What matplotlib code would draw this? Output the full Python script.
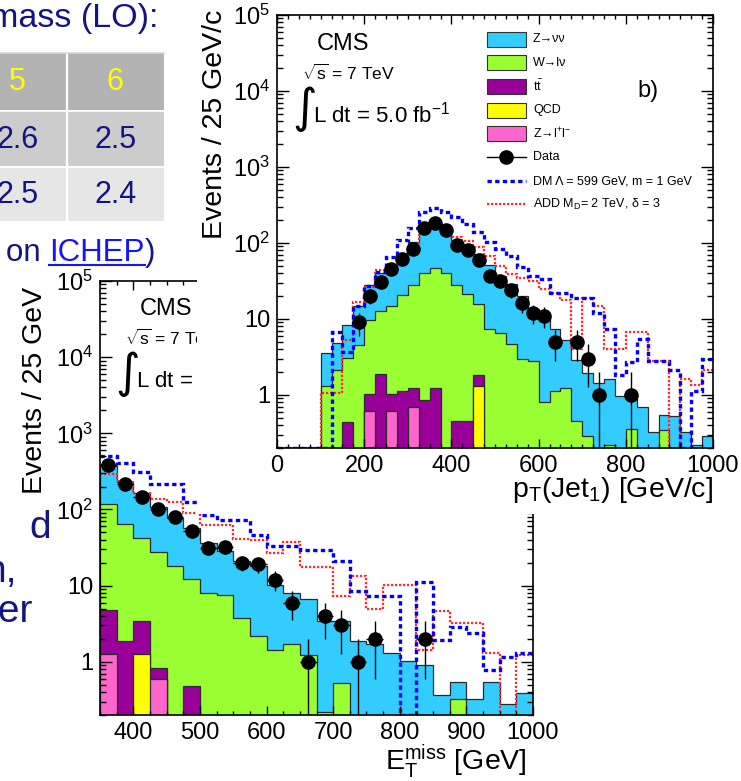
import numpy as np
import matplotlib
matplotlib.use("Agg")
import matplotlib.pyplot as plt
from matplotlib.patches import Rectangle
from matplotlib.lines import Line2D
from matplotlib.transforms import Bbox
from matplotlib.ticker import LogLocator, MultipleLocator, FuncFormatter, NullFormatter

plt.rcParams['font.family'] = ['Liberation Sans', 'DejaVu Sans']
plt.rcParams['mathtext.fontset'] = 'custom'
plt.rcParams['mathtext.rm'] = 'Liberation Sans'
plt.rcParams['mathtext.it'] = 'Liberation Sans:italic'
plt.rcParams['mathtext.bf'] = 'Liberation Sans:bold'
plt.rcParams['mathtext.default'] = 'regular'

# ---------------- leading jet pT (25 GeV/c bins, 0-1000) ----------------
pt_edges = np.arange(0, 1001, 25)
pt_znn = [0, 0, 0, 0, 2.3, 2.6, 5.3, 10, 18, 27, 37, 52, 74, 102, 115, 100, 81, 65, 56, 44,
          30, 24, 17, 10.7, 9.4, 6.3, 4.1, 2.4, 1.66, 1.44, 1.4, 0.96, 0.6, 0.70, 0.32, 0.21,
          0.52, 0.32, 0.22, 0.29]
pt_wln = [0, 0, 0, 0, 1.3, 2.15, 2.6, 4.6, 8.7, 11, 13.7, 19.8, 27, 39, 45, 40, 27.5, 20.8,
          13.9, 7.4, 6.5, 4.7, 3.0, 2.8, 0.8, 1.14, 1.24, 0.45, 0.29, 0, 0.22, 0, 0.36, 0, 0,
          0.34, 0, 0, 0, 0]
pt_tt = [0, 0, 0, 0, 0, 0, 0.44, 0, 0.42, 1.89, 0.42, 1.14, 0.54, 0.86, 1.24, 0, 0.45, 0.45,
         0.51, 0, 0, 0, 0, 0, 0, 0, 0, 0, 0, 0, 0, 0, 0, 0, 0, 0, 0, 0, 0, 0]
pt_qcd = [0] * 18 + [1.29] + [0] * 21
pt_zll = [0, 0, 0, 0, 0, 0, 0, 0, 0.61, 0, 0.61, 0, 0.70, 0, 0, 0, 0, 0, 0, 0,
          0, 0, 0, 0, 0, 0, 0, 0, 0, 0, 0, 0, 0, 0, 0, 0, 0, 0, 0, 0]
pt_data = [0, 0, 0, 0, 0, 0, 0, 9, 20, 31, 45, 62, 83, 155, 182, 150, 94, 81, 59, 37,
           32, 24, 16, 12, 11, 5, 0, 5, 3, 1, 0, 0, 1, 0, 0, 0, 0, 0, 0, 0]
pt_dm = [0, 0, 0, 0, 0, 6.7, 3.7, 15, 27, 41, 65, 110, 156, 253, 286, 253, 218, 178, 138, 102,
         83, 68, 48, 37, 34, 22, 22, 19, 19, 12, 7.4, 1.8, 2.7, 5.5, 2.8, 2.8, 2.1, 0, 1.14, 3.0]
pt_add = [0, 0, 0, 0, 1.06, 1.06, 5.35, 16.5, 26, 44, 40, 58, 92, 153, 160, 161, 119, 107, 88,
          67, 49, 39, 35, 32, 25, 22, 17.5, 4.0, 19, 15, 4.0, 4.0, 6.7, 6.7, 2.8, 2.8, 0, 1.6,
          1.33, 2.1]

# ---------------- missing ET (25 GeV bins, 350-1000) ----------------
met_edges = np.arange(350, 1001, 25)
met_znn = [255, 169, 125, 81, 59, 45, 28, 21, 17.3, 15.7, 8.9, 6.3, 5.4, 3.2, 2.9, 1.85, 1.72,
           1.30, 1.03, 0.91, 0.37, 0.22, 0.32, 0.55, 0.28, 0.39]
met_wln = [114, 62, 38.5, 27.2, 17.9, 11.7, 8.0, 7.6, 3.7, 2.2, 1.44, 1.71, 1.24, 0.22, 0.52,
           0, 0, 0, 0, 0, 0, 0.32, 0, 0, 0, 0]
met_tt = [3.5, 1.85, 2.2, 0.24, 0, 0.48] + [0] * 20
met_qcd = [0, 0, 1.26] + [0] * 23
met_zll = [1.27, 0, 0, 0.59] + [0] * 22
met_data = [386, 215, 144, 102, 79, 52, 31, 32, 20, 19, 12, 6, 1, 4, 3, 1, 2, 0, 0, 2,
            0, 0, 0, 0, 0, 0]
met_dm = [507, 406, 315, 215, 215, 127, 85, 73, 73, 46, 33, 33, 29.5, 29.5, 21, 8.6, 7.2, 7.2,
          0, 11.3, 1.94, 2.9, 2.4, 0.79, 1.17, 1.3]
met_add = [288, 233, 167, 137, 124, 89, 63, 63, 41, 40, 26.7, 36.9, 17.3, 17.3, 7.4, 13.5, 4.9,
           10.3, 10.3, 1.44, 4.7, 3.2, 3.2, 1.3, 0, 1.24]

# ---------------- slide table ----------------
tab_head = ["5", "6"]
tab_row1 = ["2.6", "2.5"]
tab_row2 = ["2.5", "2.4"]

bkg_labels = ["Z\u2192\u03bd\u03bd", "W\u2192l\u03bd", r"$t\bar{t}$", "QCD",
              "Z\u2192l$^{+}$l$^{-}$"]
bkg_colors = ["#33ccff", "#99ff33", "#990099", "#ffff00", "#ff66cc"]
sig_labels = ["DM \u039b = 599 GeV, m = 1 GeV", "ADD M$_{D}$= 2 TeV, \u03b4 = 3"]

W, H = 741, 781
fig = plt.figure(figsize=(W / 100, H / 100), dpi=100)
NAVY = "#141482"
YMIN, YMAX = 0.2, 1e5


def P(x, y):
    return x / W, 1 - y / H


def rect(x0, y0, x1, y1):
    return [x0 / W, 1 - y1 / H, (x1 - x0) / W, (y1 - y0) / H]


def yfmt(v, pos):
    e = int(round(np.log10(v)))
    if e == 0:
        return "1"
    if e == 1:
        return "10"
    return r"$10^{%d}$" % e


def draw_panel(ax, edges, znn, wln, tt, qcd, zll, data, dm, add, xmaj):
    floor = 1e-3
    comps = [zll, qcd, tt, wln, znn]
    cols = ["#ff66cc", "#ffff00", "#990099", "#99ff33", "#33ccff"]
    cum = np.zeros(len(edges) - 1)
    cums = []
    for c in comps:
        cum = cum + np.asarray(c, float)
        cums.append(cum.copy())
    for c, col in reversed(list(zip(cums, cols))):
        ax.stairs(np.maximum(c, floor), edges, baseline=floor, fill=True,
                  facecolor=col, edgecolor="#2a2a2a", lw=0.9)
    dm = np.asarray(dm, float)
    add = np.asarray(add, float)
    ax.stairs(np.where(add > 0, add, YMIN), edges, color="#ff2a2a", lw=1.6,
              ls=(0, (1.0, 0.8)), baseline=None)
    ax.stairs(np.where(dm > 0, dm, YMIN), edges, color="#0000ff", lw=2.4,
              ls=(0, (1.3, 1.0)), baseline=None)
    d = np.asarray(data, float)
    ctr = 0.5 * (edges[:-1] + edges[1:])
    m = d > 0
    lo = np.minimum(np.sqrt(d[m]), d[m] - 1e-3)
    hi = np.sqrt(d[m])
    ax.errorbar(ctr[m], d[m], xerr=12.5, yerr=[lo, hi], fmt="o", color="black",
                ms=9.5, lw=1.0, capsize=0, zorder=5)
    ax.set_yscale("log")
    ax.set_ylim(YMIN, YMAX)
    ax.set_xlim(edges[0], edges[-1])
    ax.xaxis.set_major_locator(MultipleLocator(xmaj))
    ax.xaxis.set_minor_locator(MultipleLocator(25))
    ax.yaxis.set_major_locator(LogLocator(base=10, numticks=12))
    ax.yaxis.set_minor_locator(LogLocator(base=10, subs=np.arange(2, 10), numticks=12))
    ax.yaxis.set_major_formatter(FuncFormatter(yfmt))
    ax.yaxis.set_minor_formatter(NullFormatter())
    ax.tick_params(which="both", direction="in", top=True, right=True, labelsize=17,
                   width=1.0, color="black")
    ax.tick_params(axis="x", which="major", length=6.5, pad=5)
    ax.tick_params(axis="x", which="minor", length=3.2)
    ax.tick_params(axis="y", which="major", length=8.6, pad=5)
    ax.tick_params(axis="y", which="minor", length=4.3)
    for s in ax.spines.values():
        s.set_linewidth(1.2)


def cms_block(ax, x, y, clip=None):
    arts = [
        ax.text(*P(x, y), "CMS", transform=fig.transFigure, fontsize=17, ha="left",
                va="baseline"),
        ax.text(*P(x - 15, y + 30), r"$\sqrt{s}$ = 7 TeV", transform=fig.transFigure,
                fontsize=12.5, ha="left", va="baseline"),
        ax.text(*P(x - 12, y + 59), "\u222b", transform=fig.transFigure, fontsize=34,
                family="DejaVu Sans", ha="center", va="center"),
        ax.text(*P(x - 4, y + 72), r"L dt = 5.0 fb$^{-1}$", transform=fig.transFigure,
                fontsize=16, ha="left", va="baseline"),
    ]
    if clip is not None:
        for a in arts:
            a.set_clip_box(clip)
            a.set_clip_on(True)


# ---- MET panel (lower left, partly hidden under the pT sheet)
ax2 = fig.add_axes(rect(100, 281, 533, 715))
ax2.set_zorder(0)
draw_panel(ax2, met_edges, met_znn, met_wln, met_tt, met_qcd, met_zll, met_data,
           met_dm, met_add, 100)
ax2.text(*P(35, 287), "Events / 25 GeV", transform=fig.transFigure, rotation=90,
         fontsize=20.5, ha="center", va="top")
ax2.text(*P(527, 770), r"E$_{T}^{miss}$ [GeV]", transform=fig.transFigure, fontsize=20.5,
         ha="right", va="baseline")
cms_block(ax2, 140, 315, clip=Bbox.from_extents(0, 0, 197, H))

# white sheet carrying the jet pT panel
fig.add_artist(Rectangle((197 / W, 1 - 514 / H), (W - 197) / W, 514 / H,
                         transform=fig.transFigure, facecolor="white",
                         edgecolor="none", zorder=1))

# ---- jet pT panel (upper right)
ax1 = fig.add_axes(rect(277, 15, 713, 448))
ax1.set_zorder(2)
draw_panel(ax1, pt_edges, pt_znn, pt_wln, pt_tt, pt_qcd, pt_zll, pt_data,
           pt_dm, pt_add, 200)
ax1.text(*P(215, 10), "Events / 25 GeV/c", transform=fig.transFigure, rotation=90,
         fontsize=20.5, ha="center", va="top")
ax1.text(*P(713, 497), r"p$_{T}$(Jet$_{1}$) [GeV/c]", transform=fig.transFigure,
         fontsize=20.5, ha="right", va="baseline")
cms_block(ax1, 317, 50)
ax1.text(*P(637, 97), "b)", transform=fig.transFigure, fontsize=17, ha="left", va="baseline")

# legend
ly = [39, 62.7, 86.3, 110, 133.7, 157.3, 181, 204.3]
for i, (lab, col) in enumerate(zip(bkg_labels, bkg_colors)):
    ax1.add_artist(Rectangle((487 / W, 1 - (ly[i] + 7.5) / H), 39 / W, 15 / H,
                             transform=fig.transFigure, facecolor=col,
                             edgecolor="#333333", lw=0.8))
    ax1.text(*P(533, ly[i]), lab, transform=fig.transFigure, fontsize=9, va="center")
ax1.add_artist(Line2D([487 / W, 526 / W], [1 - ly[5] / H] * 2, transform=fig.transFigure,
                      color="black", lw=1))
ax1.add_artist(Line2D([506.5 / W], [1 - ly[5] / H], transform=fig.transFigure,
                      color="black", marker="o", ms=9.5))
ax1.text(*P(533, ly[5]), "Data", transform=fig.transFigure, fontsize=9, va="center")
ax1.add_artist(Line2D([487 / W, 526 / W], [1 - ly[6] / H] * 2, transform=fig.transFigure,
                      color="#0000ff", lw=2.4, ls=(0, (1.3, 1.0))))
ax1.text(*P(533, ly[6]), sig_labels[0], transform=fig.transFigure, fontsize=9, va="center")
ax1.add_artist(Line2D([487 / W, 526 / W], [1 - ly[7] / H] * 2, transform=fig.transFigure,
                      color="#ff2a2a", lw=1.6, ls=(0, (1.0, 0.8))))
ax1.text(*P(533, ly[7]), sig_labels[1], transform=fig.transFigure, fontsize=9, va="center")

# ---- slide table and text (left)
fig.text(*P(158, 27), "mass (LO):", color=NAVY, fontsize=24.5, ha="right", va="baseline")
rows = [(53, 110, "#b3b3b3", tab_head, "#ffff00"),
        (111, 166, "#cccccc", tab_row1, NAVY),
        (167, 221, "#e6e6e6", tab_row2, NAVY)]
for y0, y1, bg, cells, tc in rows:
    fig.add_artist(Rectangle((0, 1 - y1 / H), 164 / W, (y1 - y0) / H,
                             transform=fig.transFigure, facecolor=bg, edgecolor="none",
                             zorder=3))
    for cx, s in zip([17.5, 115.5], cells):
        fig.text(*P(cx, (y0 + y1) / 2 + 1), s, color=tc, fontsize=22, ha="center",
                 va="center", zorder=4)
fig.add_artist(Line2D([66.5 / W] * 2, [1 - 53 / H, 1 - 221 / H], transform=fig.transFigure,
                      color="white", lw=1.6, zorder=4))
for yy in (110.5, 166.5):
    fig.add_artist(Line2D([0, 164 / W], [1 - yy / H] * 2, transform=fig.transFigure,
                          color="white", lw=1.2, zorder=4))
fig.add_artist(Line2D([0, 164 / W], [1 - 53 / H] * 2, transform=fig.transFigure,
                      color="#d8d8d8", lw=1.2, zorder=4))

r = fig.canvas.get_renderer()
x_right = 155
pieces = [("on ", NAVY), ("ICHEP", "#1414ff"), (")", NAVY)]
for s, col in reversed(pieces):
    t = fig.text(x_right / W, 1 - 261 / H, s, color=col, fontsize=22.5, ha="right",
                 va="baseline")
    bb = t.get_window_extent(r)
    if s == "ICHEP":
        fig.add_artist(Line2D([bb.x0 / W, bb.x1 / W], [1 - 265 / H] * 2,
                              transform=fig.transFigure, color=col, lw=1.5))
    x_right = bb.x0

for s, xr, yb in [("d", 51, 538), ("n,", 17, 582), ("ter", 33, 622)]:
    fig.text(*P(xr, yb), s, color=NAVY, fontsize=28, ha="right", va="baseline")

fig.savefig("out.png", dpi=100)
